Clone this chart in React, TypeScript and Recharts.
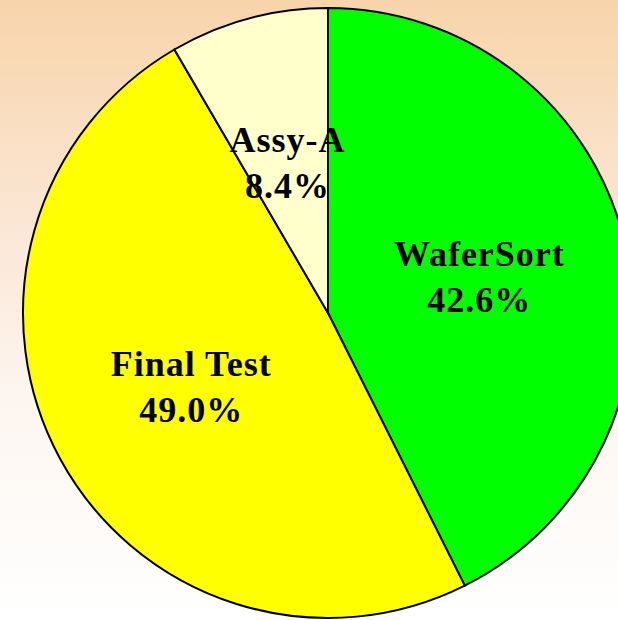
import React from "react";
import { PieChart, Pie, Cell } from "recharts";

const categories = ["WaferSort", "Final Test", "Assy-A"];
const shares = [42.6, 49.0, 8.4];
const colors = ["#00ff00", "#ffff00", "#ffffcc"];

const data = categories.map((name, i) => ({ name, value: shares[i] }));

const RAD = Math.PI / 180;

const renderLabel = (props: any) => {
  const { cx, cy, midAngle, outerRadius, name, value } = props;
  const r = outerRadius * 0.51;
  const x = cx + r * Math.cos(-midAngle * RAD);
  const y = cy + r * Math.sin(-midAngle * RAD);
  return (
    <text
      x={x}
      y={y}
      textAnchor="middle"
      fill="#000"
      fontFamily="'Liberation Serif', 'Times New Roman', serif"
      fontWeight="bold"
      fontSize={36}
      letterSpacing={1}
    >
      <tspan x={x} y={y - 11}>{name}</tspan>
      <tspan x={x} y={y + 35}>{Number(value).toFixed(1)}%</tspan>
    </text>
  );
};

export default function App() {
  return (
    <div
      style={{
        position: "fixed",
        left: 0,
        top: 0,
        width: 618,
        height: 620,
        overflow: "hidden",
        background: "linear-gradient(to bottom, #f8d4aa 0%, #fbe6d4 35%, #fdf6f0 65%, #ffffff 100%)",
      }}
    >
      <PieChart width={618} height={620} margin={{ top: 0, right: 0, bottom: 0, left: 0 }}>
        <Pie
          data={data}
          dataKey="value"
          nameKey="name"
          cx={328}
          cy={313}
          outerRadius={305}
          startAngle={90}
          endAngle={-270}
          stroke="#000"
          strokeWidth={2}
          label={renderLabel}
          labelLine={false}
          isAnimationActive={false}
        >
          {data.map((d, i) => (
            <Cell key={d.name} fill={colors[i]} />
          ))}
        </Pie>
      </PieChart>
    </div>
  );
}
